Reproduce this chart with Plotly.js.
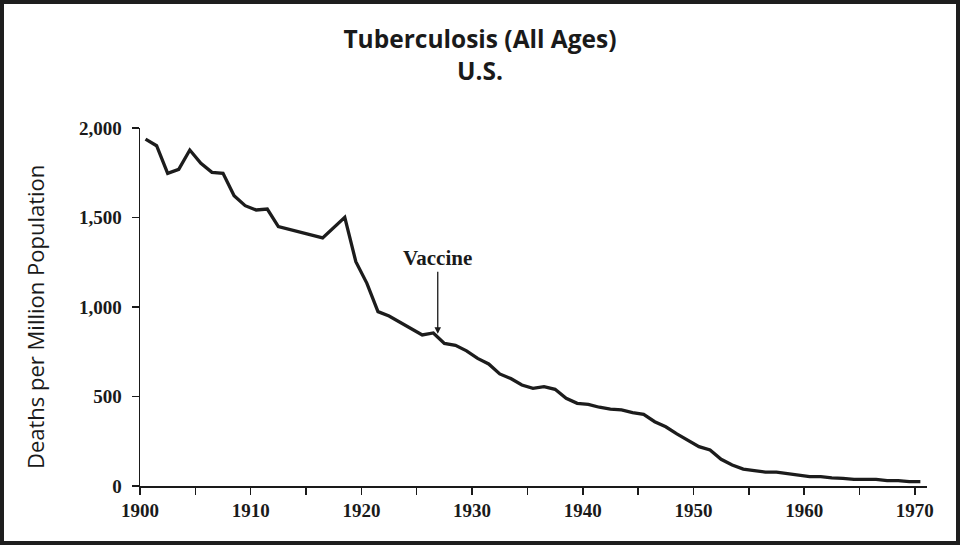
<!DOCTYPE html>
<html>
<head>
<meta charset="utf-8">
<script src="https://cdn.plot.ly/plotly-3.0.1.min.js"></script>
<style>
  html, body { margin: 0; padding: 0; background: #ffffff; }
  #frame { width: 960px; height: 545px; box-sizing: border-box; border: 4px solid #1e1e1e; background: #fff; }
  #chart { width: 952px; height: 537px; }
</style>
</head>
<body>
<div id="frame"><div id="chart"></div></div>
<script>
// Data (deaths per million population, U.S.)
const years = [1900, 1901, 1902, 1903, 1904, 1905, 1906, 1907, 1908, 1909,
               1910, 1911, 1912, 1916, 1918, 1919, 1920, 1921, 1922, 1923,
               1924, 1925, 1926, 1927, 1928, 1929, 1930, 1931, 1932, 1933,
               1934, 1935, 1936, 1937, 1938, 1939, 1940, 1941, 1942, 1943,
               1944, 1945, 1946, 1947, 1948, 1949, 1950, 1951, 1952, 1953,
               1954, 1955, 1956, 1957, 1958, 1959, 1960, 1961, 1962, 1963,
               1964, 1965, 1966, 1967, 1968, 1969, 1970];
const deaths = [1938, 1901, 1747, 1769, 1877, 1803, 1752, 1747, 1622, 1566,
                1542, 1547, 1449, 1386, 1501, 1253, 1132, 974, 950, 914,
                877, 844, 855, 797, 786, 755, 713, 682, 626, 600,
                564, 546, 555, 540, 490, 462, 456, 440, 430, 425,
                410, 400, 359, 331, 291, 257, 220, 201, 149, 117,
                94, 86, 78, 78, 69, 58, 52, 52, 45, 43,
                37, 37, 37, 30, 30, 24, 24];
const xTickVals = [1900, 1905, 1910, 1915, 1920, 1925, 1930, 1935, 1940, 1945, 1950, 1955, 1960, 1965, 1970];
const xTickText = ['1900', '', '1910', '', '1920', '', '1930', '', '1940', '', '1950', '', '1960', '', '1970'];
const yTickVals = [0, 500, 1000, 1500, 2000];
const vaccineYear = 1927;
const vaccineLevel = 850;

// plotted at mid-year
const xMid = years.map(y => y + 0.5);

const trace = {
  x: xMid,
  y: deaths,
  type: 'scatter',
  mode: 'lines',
  line: { color: '#1c1c1c', width: 3.3 },
  hoverinfo: 'x+y'
};

const tickFont = { family: '"Liberation Serif", "Times New Roman", serif', size: 19, color: '#1a1a1a', weight: 700 };

const layout = {
  width: 952,
  height: 537,
  margin: { l: 136, r: 29, t: 124, b: 55 },
  paper_bgcolor: '#ffffff',
  plot_bgcolor: '#ffffff',
  showlegend: false,
  title: {
    text: 'Tuberculosis (All Ages)<br>U.S.',
    font: { family: '"Open Sans", sans-serif', size: 24.5, color: '#1a1a1a', weight: 700 },
    x: 0.5,
    xref: 'container',
    xanchor: 'center',
    y: 1 - 44 / 537,
    yref: 'container',
    yanchor: 'middle'
  },
  xaxis: {
    range: [1900, 1971.1],
    showgrid: false,
    zeroline: false,
    showline: true,
    linecolor: '#1a1a1a',
    linewidth: 1.5,
    ticks: 'outside',
    ticklen: 7,
    tickwidth: 1.5,
    tickcolor: '#1a1a1a',
    tickvals: xTickVals,
    ticktext: xTickText,
    tickfont: tickFont,
    fixedrange: true
  },
  yaxis: {
    range: [0, 2000],
    showgrid: false,
    zeroline: false,
    showline: true,
    linecolor: '#1a1a1a',
    linewidth: 1.5,
    ticks: 'outside',
    ticklen: 7,
    tickwidth: 1.5,
    tickcolor: '#1a1a1a',
    tickvals: yTickVals,
    tickformat: ',d',
    tickfont: tickFont,
    ticklabelstandoff: 6,
    fixedrange: true
  },
  annotations: [{
    x: vaccineYear - 0.1,
    y: vaccineLevel,
    xref: 'x',
    yref: 'y',
    text: 'Vaccine',
    showarrow: true,
    arrowhead: 2,
    arrowsize: 1,
    arrowwidth: 1.3,
    arrowcolor: '#1a1a1a',
    ax: 0,
    ay: -62,
    yanchor: 'bottom',
    font: { family: '"Liberation Serif", "Times New Roman", serif', size: 21, color: '#1a1a1a', weight: 700 }
  }, {
    // y-axis title
    text: 'Deaths per Million Population',
    xref: 'paper',
    yref: 'paper',
    x: -0.1334,
    y: 0.472,
    xanchor: 'center',
    yanchor: 'middle',
    textangle: -90,
    showarrow: false,
    font: { family: '"Open Sans", sans-serif', size: 22, color: '#1a1a1a' }
  }]
};

Plotly.newPlot('chart', [trace], layout, { displayModeBar: false, staticPlot: true });
</script>
</body>
</html>
